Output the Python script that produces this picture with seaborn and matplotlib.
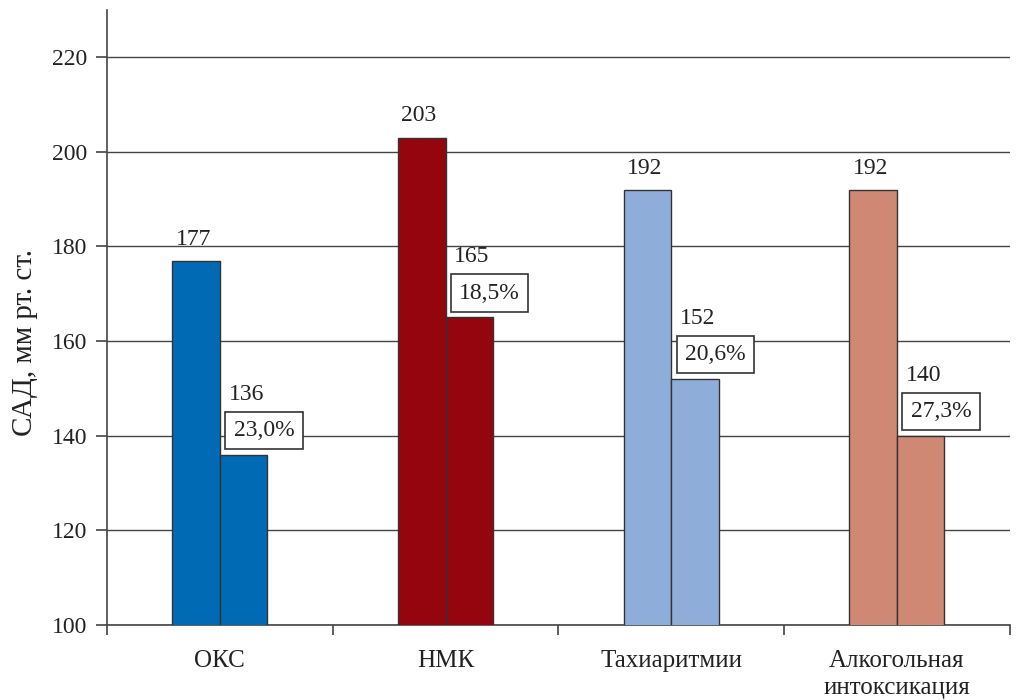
import matplotlib
matplotlib.use("Agg")
import matplotlib.pyplot as plt
import seaborn as sns
import pandas as pd

categories = ["ОКС", "НМК", "Тахиаритмии", "Алкогольная\nинтоксикация"]
before = [177, 203, 192, 192]
after = [136, 165, 152, 140]
percent_labels = ["23,0%", "18,5%", "20,6%", "27,3%"]
colors = ["#006AB5", "#94050E", "#8EADD9", "#CF8874"]
stages = ["до", "после"]

sns.set_theme(style="white")
plt.rcParams['font.family'] = ['Liberation Serif', 'DejaVu Serif']

rows = []
for c, b, a in zip(categories, before, after):
    rows.append({"cat": c, "stage": stages[0], "val": b})
    rows.append({"cat": c, "stage": stages[1], "val": a})
df = pd.DataFrame(rows)

fig = plt.figure(figsize=(10.24, 7), dpi=100)
ax = fig.add_axes([0.1045, 0.107, 0.8815, 0.879])

sns.barplot(data=df, x="cat", y="val", hue="stage", order=categories, hue_order=stages,
            width=0.42, gap=0, palette=["#888888", "#888888"], edgecolor="#333333",
            linewidth=1.0, legend=False, ax=ax, zorder=3)

ax.set_ylim(100, 230)
ax.set_xlim(-0.5, 3.5)
ax.set_yticks(range(100, 221, 20))
ax.yaxis.grid(True, color="#444444", linewidth=1.0, zorder=0)
ax.set_axisbelow(True)

bars = sorted(ax.patches, key=lambda p: p.get_x())
for i, c in enumerate(categories):
    b1, b2 = bars[2 * i], bars[2 * i + 1]
    for p in (b1, b2):
        p.set_facecolor(colors[i])
        p.set_zorder(3)
    x1 = b1.get_x() + b1.get_width() / 2
    ax.annotate(str(before[i]), (x1, before[i]), xytext=(-2, 8), textcoords="offset points",
                ha="center", va="bottom", fontsize=17, color="#222222")
    x2l = b2.get_x()
    x2c = x2l + b2.get_width() / 2
    ax.annotate(percent_labels[i], (x2l, after[i]), xytext=(10, 10), textcoords="offset points",
                ha="left", va="bottom", fontsize=17, color="#222222", zorder=5,
                bbox=dict(boxstyle="square,pad=0.35", facecolor="white", edgecolor="#333333", linewidth=1.2))
    ax.annotate(str(after[i]), (x2c, after[i]), xytext=(2, 36), textcoords="offset points",
                ha="center", va="bottom", fontsize=17, color="#222222")

for s in ["top", "right"]:
    ax.spines[s].set_visible(False)
for s in ["left", "bottom"]:
    ax.spines[s].set_color("#444444")
    ax.spines[s].set_linewidth(1.2)

ax.set_xticks([-0.5, 0.5, 1.5, 2.5, 3.5])
ax.set_xticklabels([])
ax.set_xticks(range(len(categories)), minor=True)
ax.set_xticklabels(categories, minor=True, fontsize=18, color="#222222", linespacing=1.3)
ax.tick_params(axis="x", which="major", direction="out", length=7, color="#444444", width=1.2, bottom=True)
ax.tick_params(axis="x", which="minor", length=0, pad=18)
ax.tick_params(axis="y", direction="out", length=8, color="#444444", width=1.2, left=True, labelsize=17,
               labelcolor="#222222", pad=6)

ax.set_xlabel("")
ax.set_ylabel("САД, мм рт. ст.", fontsize=21, color="#222222")
ax.yaxis.set_label_coords(-0.077, 0.46)

fig.savefig("out.png", dpi=100)
